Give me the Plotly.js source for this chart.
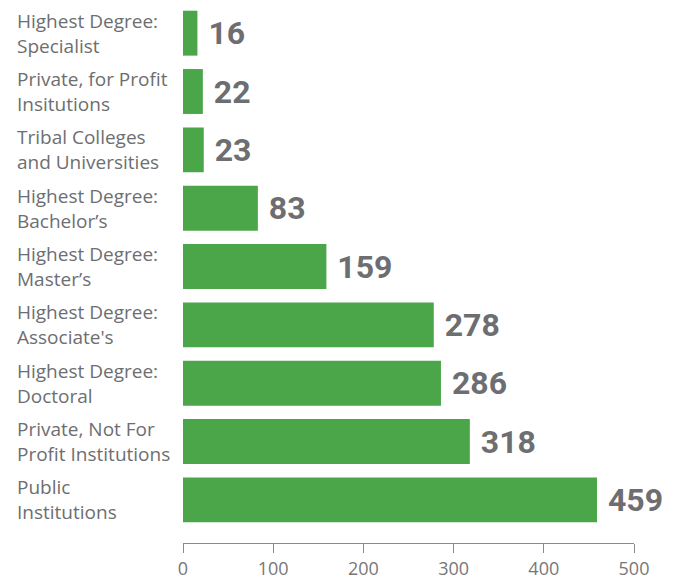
<!DOCTYPE html>
<html>
<head>
<meta charset="utf-8">
<script src="https://cdn.plot.ly/plotly-3.0.1.min.js"></script>
<style>html,body{margin:0;padding:0;background:#fff;}#chart{width:700px;height:579px;}</style>
</head>
<body>
<div id="chart"></div>
<script>
const categories = [
  "Highest Degree:<br>Specialist",
  "Private, for Profit<br>Insitutions",
  "Tribal Colleges<br>and Universities",
  "Highest Degree:<br>Bachelor’s",
  "Highest Degree:<br>Master’s",
  "Highest Degree:<br>Associate's",
  "Highest Degree:<br>Doctoral",
  "Private, Not For<br>Profit Institutions",
  "Public<br>Institutions"
];
const values = [16, 22, 23, 83, 159, 278, 286, 318, 459];
const xTicks = [0, 100, 200, 300, 400, 500];

const gray = '#6d6e71';
const trace = {
  type: 'bar',
  orientation: 'h',
  y: categories,
  x: values,
  marker: {color: '#4ba64a'},
  text: values.map(String),
  texttemplate: ' %{text}',
  textposition: 'outside',
  cliponaxis: false,
  textfont: {family: '"Roboto", sans-serif', size: 32, color: gray, weight: 'bold'},
  hoverinfo: 'none'
};

const annotations = categories.map(c => ({
  xref: 'paper', yref: 'y',
  x: -0.3725, y: c,
  xanchor: 'left', yanchor: 'middle',
  align: 'left',
  text: c,
  showarrow: false,
  font: {family: '"Open Sans", sans-serif', size: 19, color: gray}
}));

const layout = {
  width: 700, height: 579,
  margin: {l: 183, r: 66, t: 4, b: 36},
  paper_bgcolor: '#fff', plot_bgcolor: '#fff',
  showlegend: false,
  bargap: 0.23,
  xaxis: {
    range: [0, 500],
    tickvals: xTicks,
    ticktext: xTicks.map(String),
    showgrid: false, zeroline: false,
    showline: true, linecolor: '#8a8a8a', linewidth: 1,
    ticks: 'outside', ticklen: 9, tickcolor: '#8a8a8a', tickwidth: 1,
    tickfont: {family: '"Open Sans", sans-serif', size: 18, color: '#777'},
    fixedrange: true
  },
  yaxis: {
    type: 'category',
    range: [8.74, -0.5],
    showticklabels: false, showgrid: false, zeroline: false, showline: false,
    ticks: '',
    fixedrange: true
  },
  annotations: annotations
};

Plotly.newPlot('chart', [trace], layout, {displayModeBar: false, staticPlot: true});
</script>
</body>
</html>
